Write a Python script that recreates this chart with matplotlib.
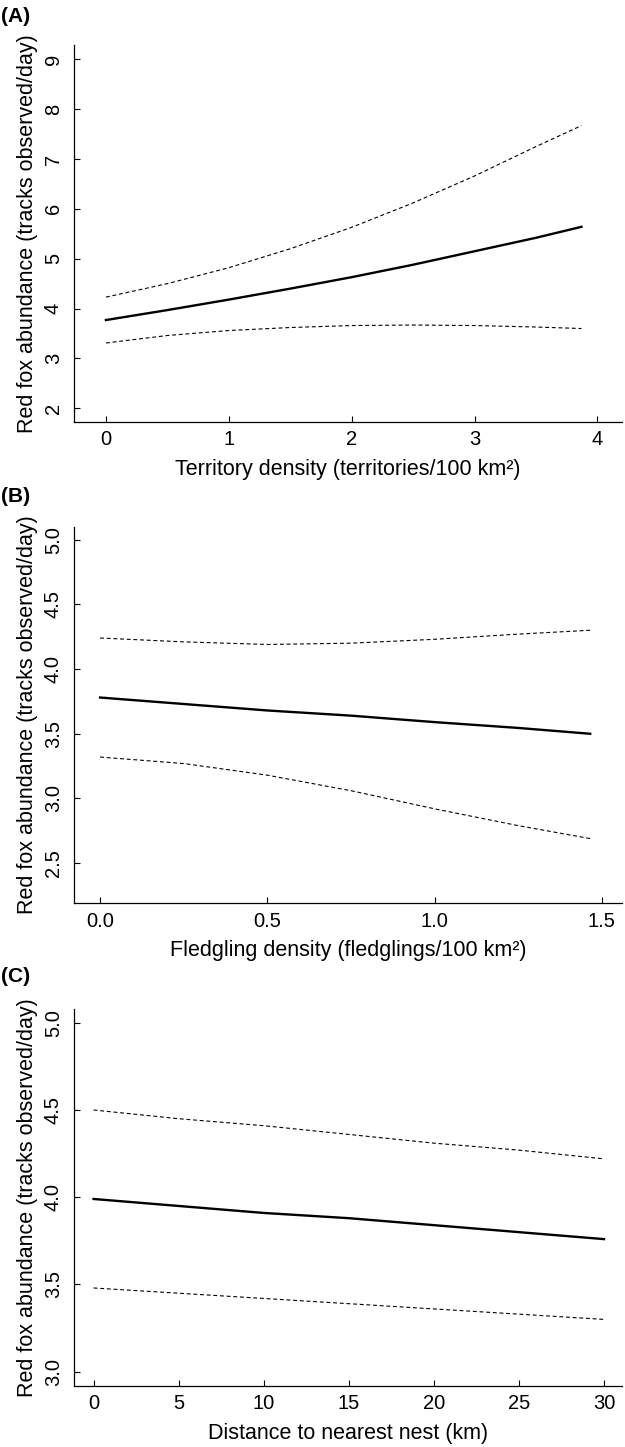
# fitted red fox abundance vs. three predictors, with confidence bands

import matplotlib
matplotlib.use("Agg")
import matplotlib.pyplot as plt

plt.rcParams['font.family'] = ['Liberation Sans', 'DejaVu Sans']

ylab = "Red fox abundance (tracks observed/day)"

# panel A - territory density
terr_x = [0, 0.5, 1, 1.5, 2, 2.5, 3, 3.5, 3.87]
terr_fit = [3.77, 3.97, 4.18, 4.40, 4.63, 4.88, 5.15, 5.42, 5.64]
terr_hi = [4.23, 4.50, 4.82, 5.20, 5.63, 6.12, 6.66, 7.25, 7.67]
terr_lo = [3.31, 3.46, 3.56, 3.62, 3.66, 3.67, 3.66, 3.63, 3.60]

# panel B - fledgling density
fled_x = [0, 0.25, 0.5, 0.75, 1.0, 1.25, 1.465]
fled_fit = [3.78, 3.73, 3.68, 3.64, 3.59, 3.545, 3.50]
fled_hi = [4.24, 4.21, 4.19, 4.20, 4.23, 4.27, 4.30]
fled_lo = [3.32, 3.27, 3.18, 3.06, 2.92, 2.79, 2.69]

# panel C - distance to nearest nest
dist_x = [0, 5, 10, 15, 20, 25, 30]
dist_fit = [3.99, 3.95, 3.91, 3.88, 3.84, 3.80, 3.76]
dist_hi = [4.50, 4.45, 4.41, 4.36, 4.31, 4.27, 4.22]
dist_lo = [3.48, 3.45, 3.42, 3.39, 3.36, 3.33, 3.30]

W, H = 625, 1447
fig = plt.figure(figsize=(W / 100, H / 100), dpi=100)


def px_axes(left, right, top, bottom):
    return fig.add_axes([left / W, 1 - bottom / H, (right - left) / W, (bottom - top) / H])


panels = [
    ("(A)", 17, (45, 422), terr_x, terr_fit, terr_hi, terr_lo,
     (-0.26, 4.20), (1.725, 9.287), [0, 1, 2, 3, 4], ["0", "1", "2", "3", "4"],
     [2, 3, 4, 5, 6, 7, 8, 9], ["2", "3", "4", "5", "6", "7", "8", "9"],
     "Territory density (territories/100 km²)"),
    ("(B)", 497, (526.7, 903.3), fled_x, fled_fit, fled_hi, fled_lo,
     (-0.078, 1.56), (2.19, 5.10), [0, 0.5, 1.0, 1.5], ["0.0", "0.5", "1.0", "1.5"],
     [2.5, 3.0, 3.5, 4.0, 4.5, 5.0], ["2.5", "3.0", "3.5", "4.0", "4.5", "5.0"],
     "Fledgling density (fledglings/100 km²)"),
    ("(C)", 977, (1009.3, 1385.7), dist_x, dist_fit, dist_hi, dist_lo,
     (-1.15, 31.06), (2.92, 5.077), [0, 5, 10, 15, 20, 25, 30],
     ["0", "5", "10", "15", "20", "25", "30"],
     [3.0, 3.5, 4.0, 4.5, 5.0], ["3.0", "3.5", "4.0", "4.5", "5.0"],
     "Distance to nearest nest (km)"),
]

for tag, tag_y, (top, bot), x, fit, hi, lo, xl, yl, xt, xtl, yt, ytl, xlab in panels:
    ax = px_axes(74, 622, top, bot)
    ax.plot(x, fit, color='black', lw=1.7)
    ax.plot(x, hi, color='black', lw=0.8, ls=(0, (3.5, 2.5)))
    ax.plot(x, lo, color='black', lw=0.8, ls=(0, (3.5, 2.5)))
    ax.set_xlim(*xl)
    ax.set_ylim(*yl)
    ax.set_xticks(xt)
    ax.set_xticklabels(xtl)
    ax.set_yticks(yt)
    ax.set_yticklabels(ytl, rotation=90, va='center')
    ax.spines['top'].set_visible(False)
    ax.spines['right'].set_visible(False)
    for s in ('left', 'bottom'):
        ax.spines[s].set_linewidth(0.9)
    ax.tick_params(direction='in', length=4.5, width=0.8, labelsize=14.5)
    ax.tick_params(axis='x', pad=6)
    ax.tick_params(axis='y', pad=8)
    ax.set_xlabel(xlab, fontsize=15.5, labelpad=7)
    ax.set_ylabel(ylab, fontsize=15.5, labelpad=4)
    fig.text(0.002, 1 - tag_y / H, tag, fontsize=15, fontweight='bold', va='center', ha='left')

fig.savefig("out.png", dpi=100)
